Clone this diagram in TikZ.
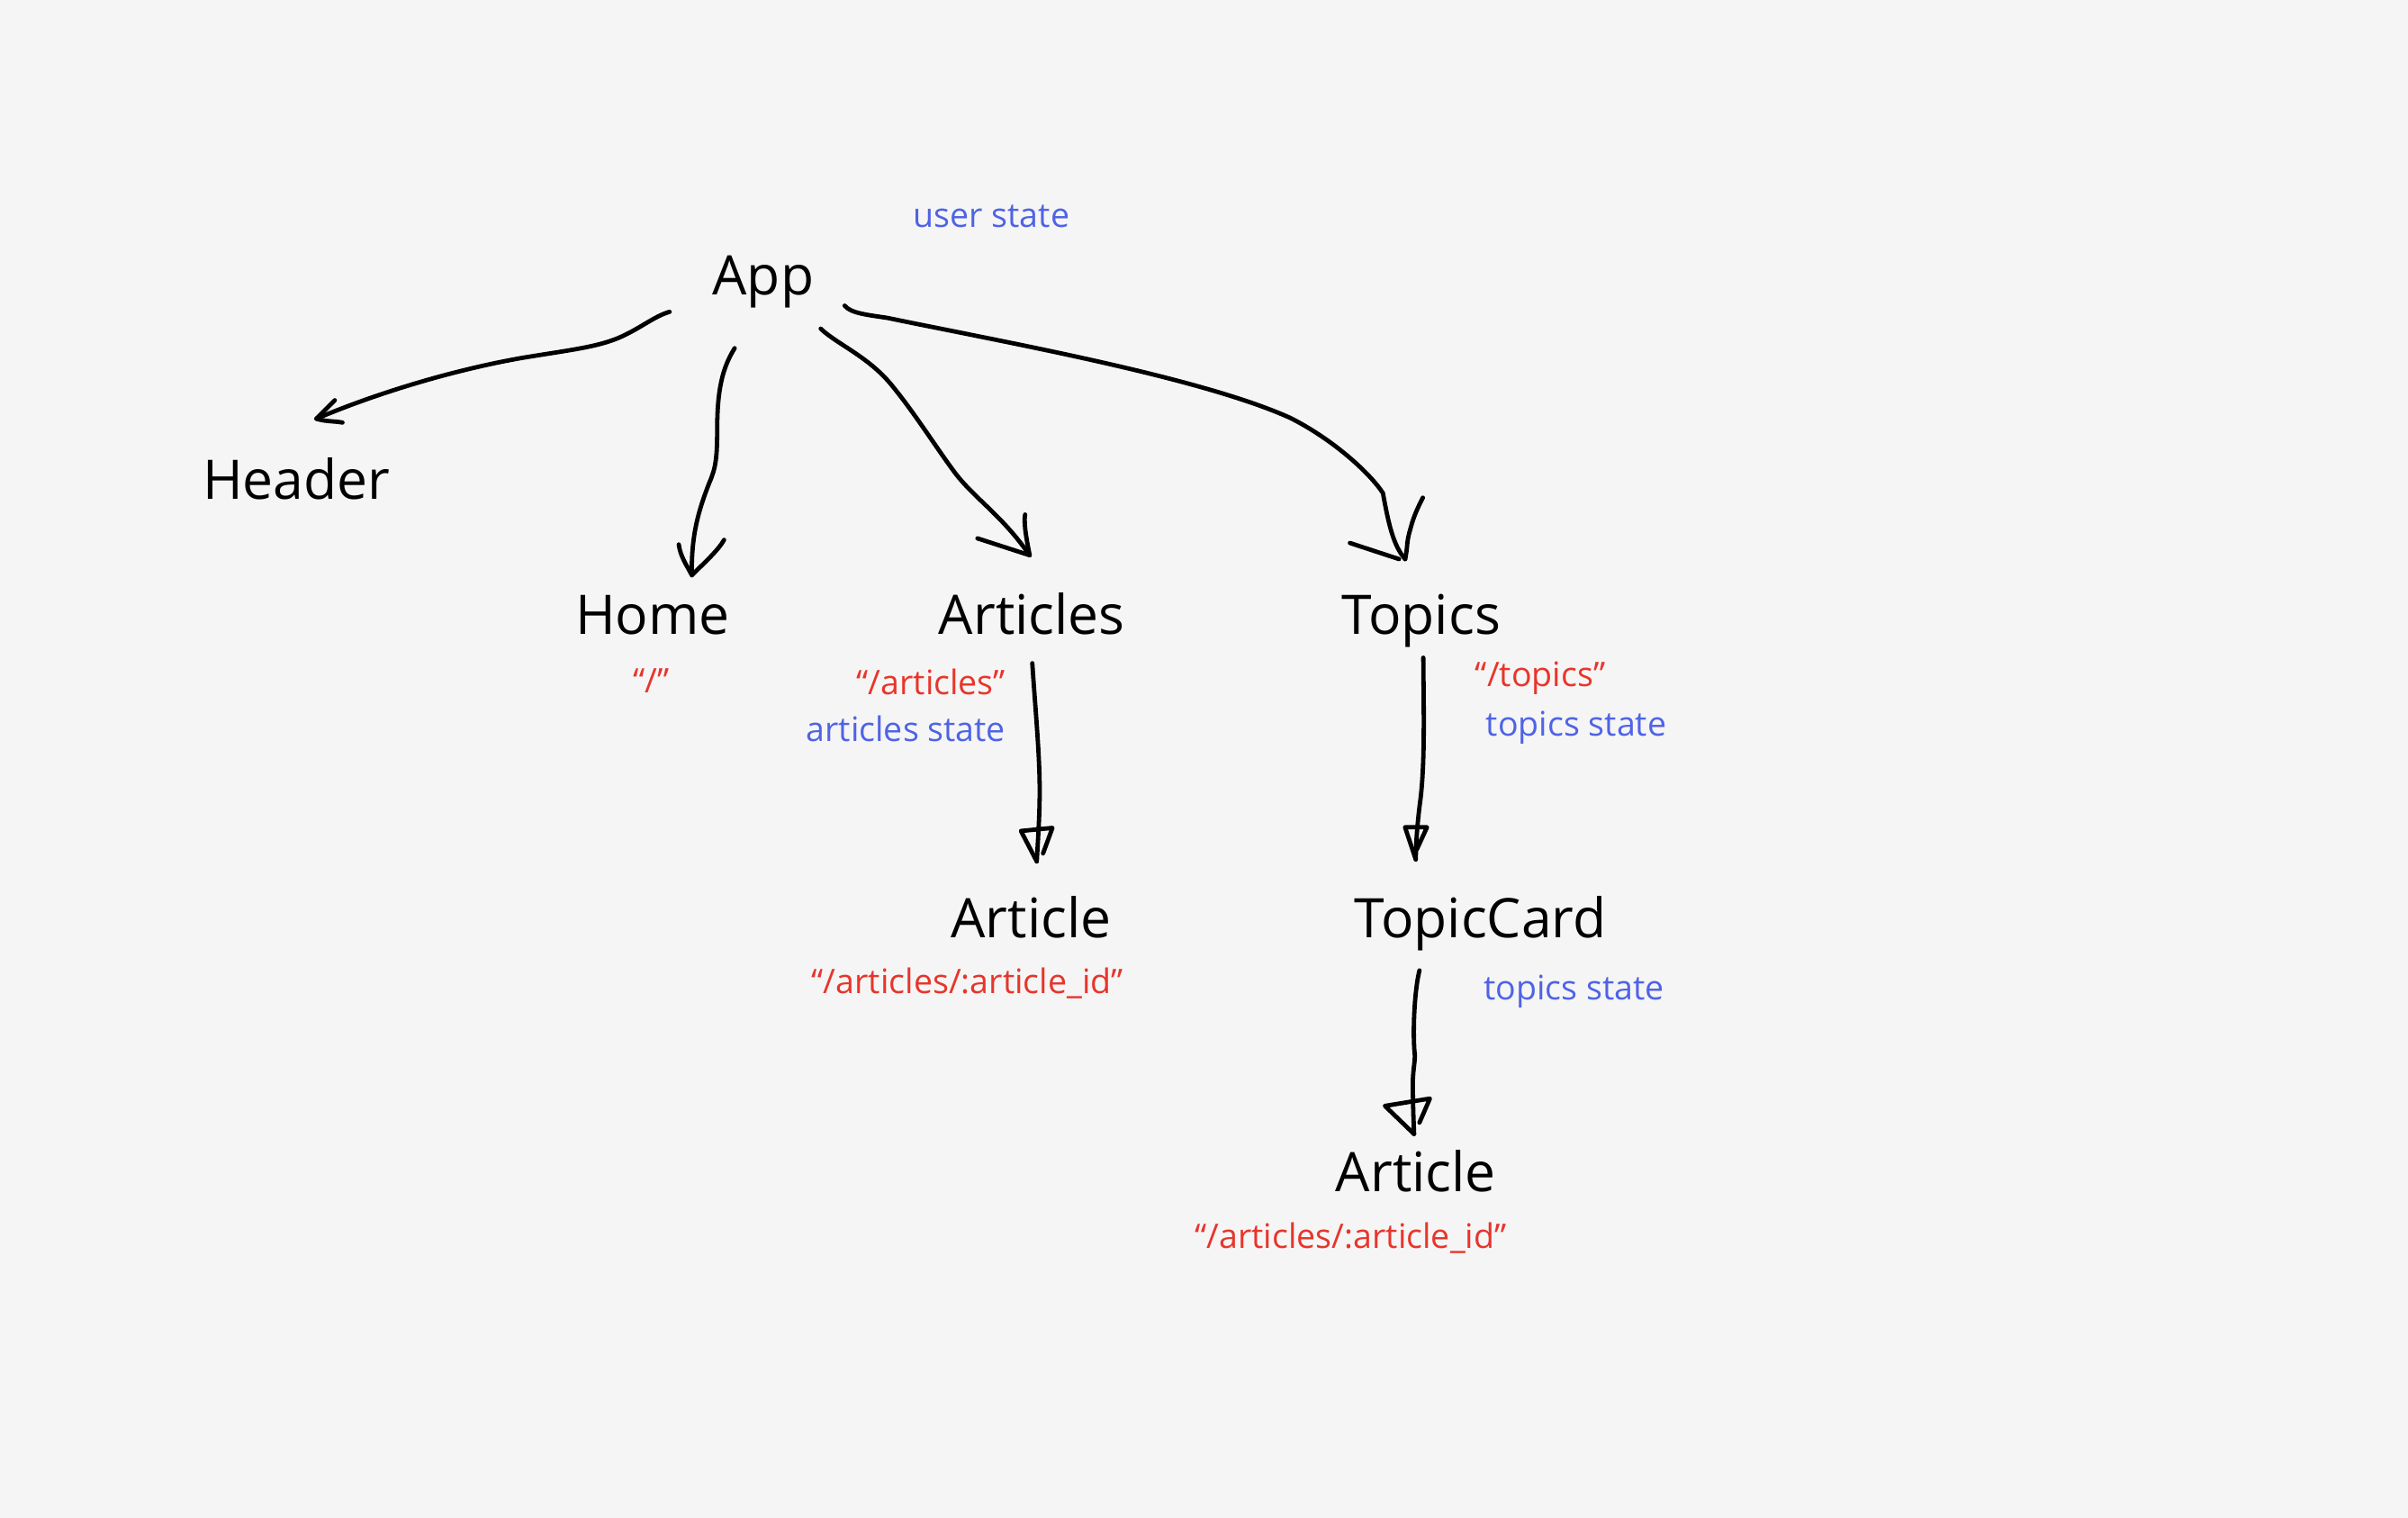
\documentclass[tikz,border=0pt]{standalone}
\usepackage{fontspec}
\setmainfont{Open Sans}
\definecolor{bg}{HTML}{F5F5F5}
\definecolor{stateblue}{HTML}{4F63E6}
\definecolor{routered}{HTML}{E8352B}
\begin{document}
\begin{tikzpicture}[x=0.01cm,y=-0.01cm,
  comp/.style={anchor=base,inner sep=0pt,font=\fontsize{10.1pt}{12pt}\selectfont,text=black},
  statelbl/.style={anchor=base,inner sep=0pt,font=\fontsize{6.26pt}{8pt}\selectfont,text=stateblue},
  routelbl/.style={anchor=base,inner sep=0pt,font=\fontsize{6.26pt}{8pt}\selectfont,text=routered},
  conn/.style={draw=black,line width=0.8pt,line cap=round,line join=round}]
\fill[bg] (0,0) rectangle (1568,988);
\useasboundingbox (0,0) rectangle (1568,988);
% components
\node[comp] (app) at (497,192) {App};
\node[comp] (header) at (193,325) {Header};
\node[comp] (home) at (425,413) {Home};
\node[comp] (articles) at (672,413) {Articles};
\node[comp] (topics) at (925.5,413) {Topics};
\node[comp] (article1) at (671.5,610.5) {Article};
\node[comp] (topiccard) at (964,610.5) {TopicCard};
\node[comp] (article2) at (922,776) {Article};
% labels
\node[statelbl] (userstate) at (645.6,148) {user state};
\node[routelbl] (homeroute) at (424,451) {“/”};
\node[routelbl,anchor=base east] (articlesroute) at (655.5,452) {“/articles”};
\node[statelbl,anchor=base east] (articlesstate) at (655.5,483) {articles state};
\node[routelbl,anchor=base west] (topicsroute) at (960,447) {“/topics”};
\node[statelbl,anchor=base west] (topicsstate1) at (967,479) {topics state};
\node[routelbl] (article1route) at (630,647) {“/articles/:article\_id”};
\node[statelbl,anchor=base west] (topicsstate2) at (965.5,651) {topics state};
\node[routelbl] (article2route) at (879.6,813) {“/articles/:article\_id”};
% connector end points
\coordinate (hs) at (436,203);   \coordinate (ht) at (206,272.6);
\coordinate (ms) at (478.4,226.7); \coordinate (mt) at (450.5,374.5);
\coordinate (as) at (534.4,214); \coordinate (at) at (670.5,361.5);
\coordinate (ts) at (550,199);   \coordinate (tt) at (915,364);
\coordinate (ars) at (672.2,431.8); \coordinate (art) at (675.1,560.8);
\coordinate (tcs) at (926.8,428.2); \coordinate (tct) at (921.9,559.5);
\coordinate (cas) at (924.3,631.8); \coordinate (cat) at (920.8,738.3);
% App -> Header
\draw[conn] (hs) .. controls (426,206) and (418,213) .. (405,219)
  .. controls (390,226) and (370,228) .. (340,233)
  .. controls (300,240) and (250,254) .. (ht);
\draw[conn] (ht) ++(12,-12) -- (ht) .. controls +(6,2) and +(-5,-1) .. ++(17,2.5);
% App -> Home
\draw[conn] (ms) .. controls (470,240) and (467,255) .. (467,280)
  .. controls (467,298) and (466,305) .. (462,314)
  .. controls (455,332) and (450,348) .. (mt);
\draw[conn] (mt) ++(-8.5,-20) .. controls +(1,8) and +(-3,-6) .. (mt)
  .. controls +(8,-8) and +(-4,7) .. ++(21,-23);
% App -> Articles
\draw[conn] (as) .. controls (545,224) and (565,232) .. (580,250)
  .. controls (595,268) and (610,292) .. (622,308)
  .. controls (635,325) and (652,335) .. (at);
\draw[conn] (at) ++(-34,-11) -- (at) .. controls +(-2,-10) and +(-1,6) .. ++(-3,-26.5);
% App -> Topics
\draw[conn] (ts) .. controls (554,204) and (565,205) .. (578,207)
  .. controls (650,222) and (780,245) .. (840,272)
  .. controls (868,286) and (892,308) .. (900.5,321)
  .. controls (904,340) and (907,355) .. (tt);
\draw[conn] (tt) ++(-36,-10.5) -- ++(32,10.5) (tt) .. controls +(2,-10) and +(-3,10) .. ++(3.5,-20)
  .. controls +(2,-8) and +(-3,6) .. ++(8,-20);
% Articles -> Article
\draw[conn] (ars) .. controls (674,460) and (677,490) .. (677,515)
  .. controls (677,530) and (676,545) .. (art);
\draw[conn] (art) -- ++(-10.3,-19.8) -- ++(20.5,-2) -- ++(-6.1,16.6);
% Topics -> TopicCard
\draw[conn] (tcs) .. controls (927,460) and (928,495) .. (925,520)
  .. controls (923,535) and (922,548) .. (tct);
\draw[conn] (tct) -- ++(-7,-20.9) -- ++(14.3,0) -- ++(-6.5,14.2);
% TopicCard -> Article
\draw[conn] (cas) .. controls (921,645) and (920,670) .. (921,684)
  .. controls (922,690) and (920,695) .. (920,705)
  .. controls (920,720) and (920.5,730) .. (cat);
\draw[conn] (cat) -- ++(-19,-18.3) -- ++(29.3,-4.8) -- ++(-6.8,15.7);
\end{tikzpicture}
\end{document}
